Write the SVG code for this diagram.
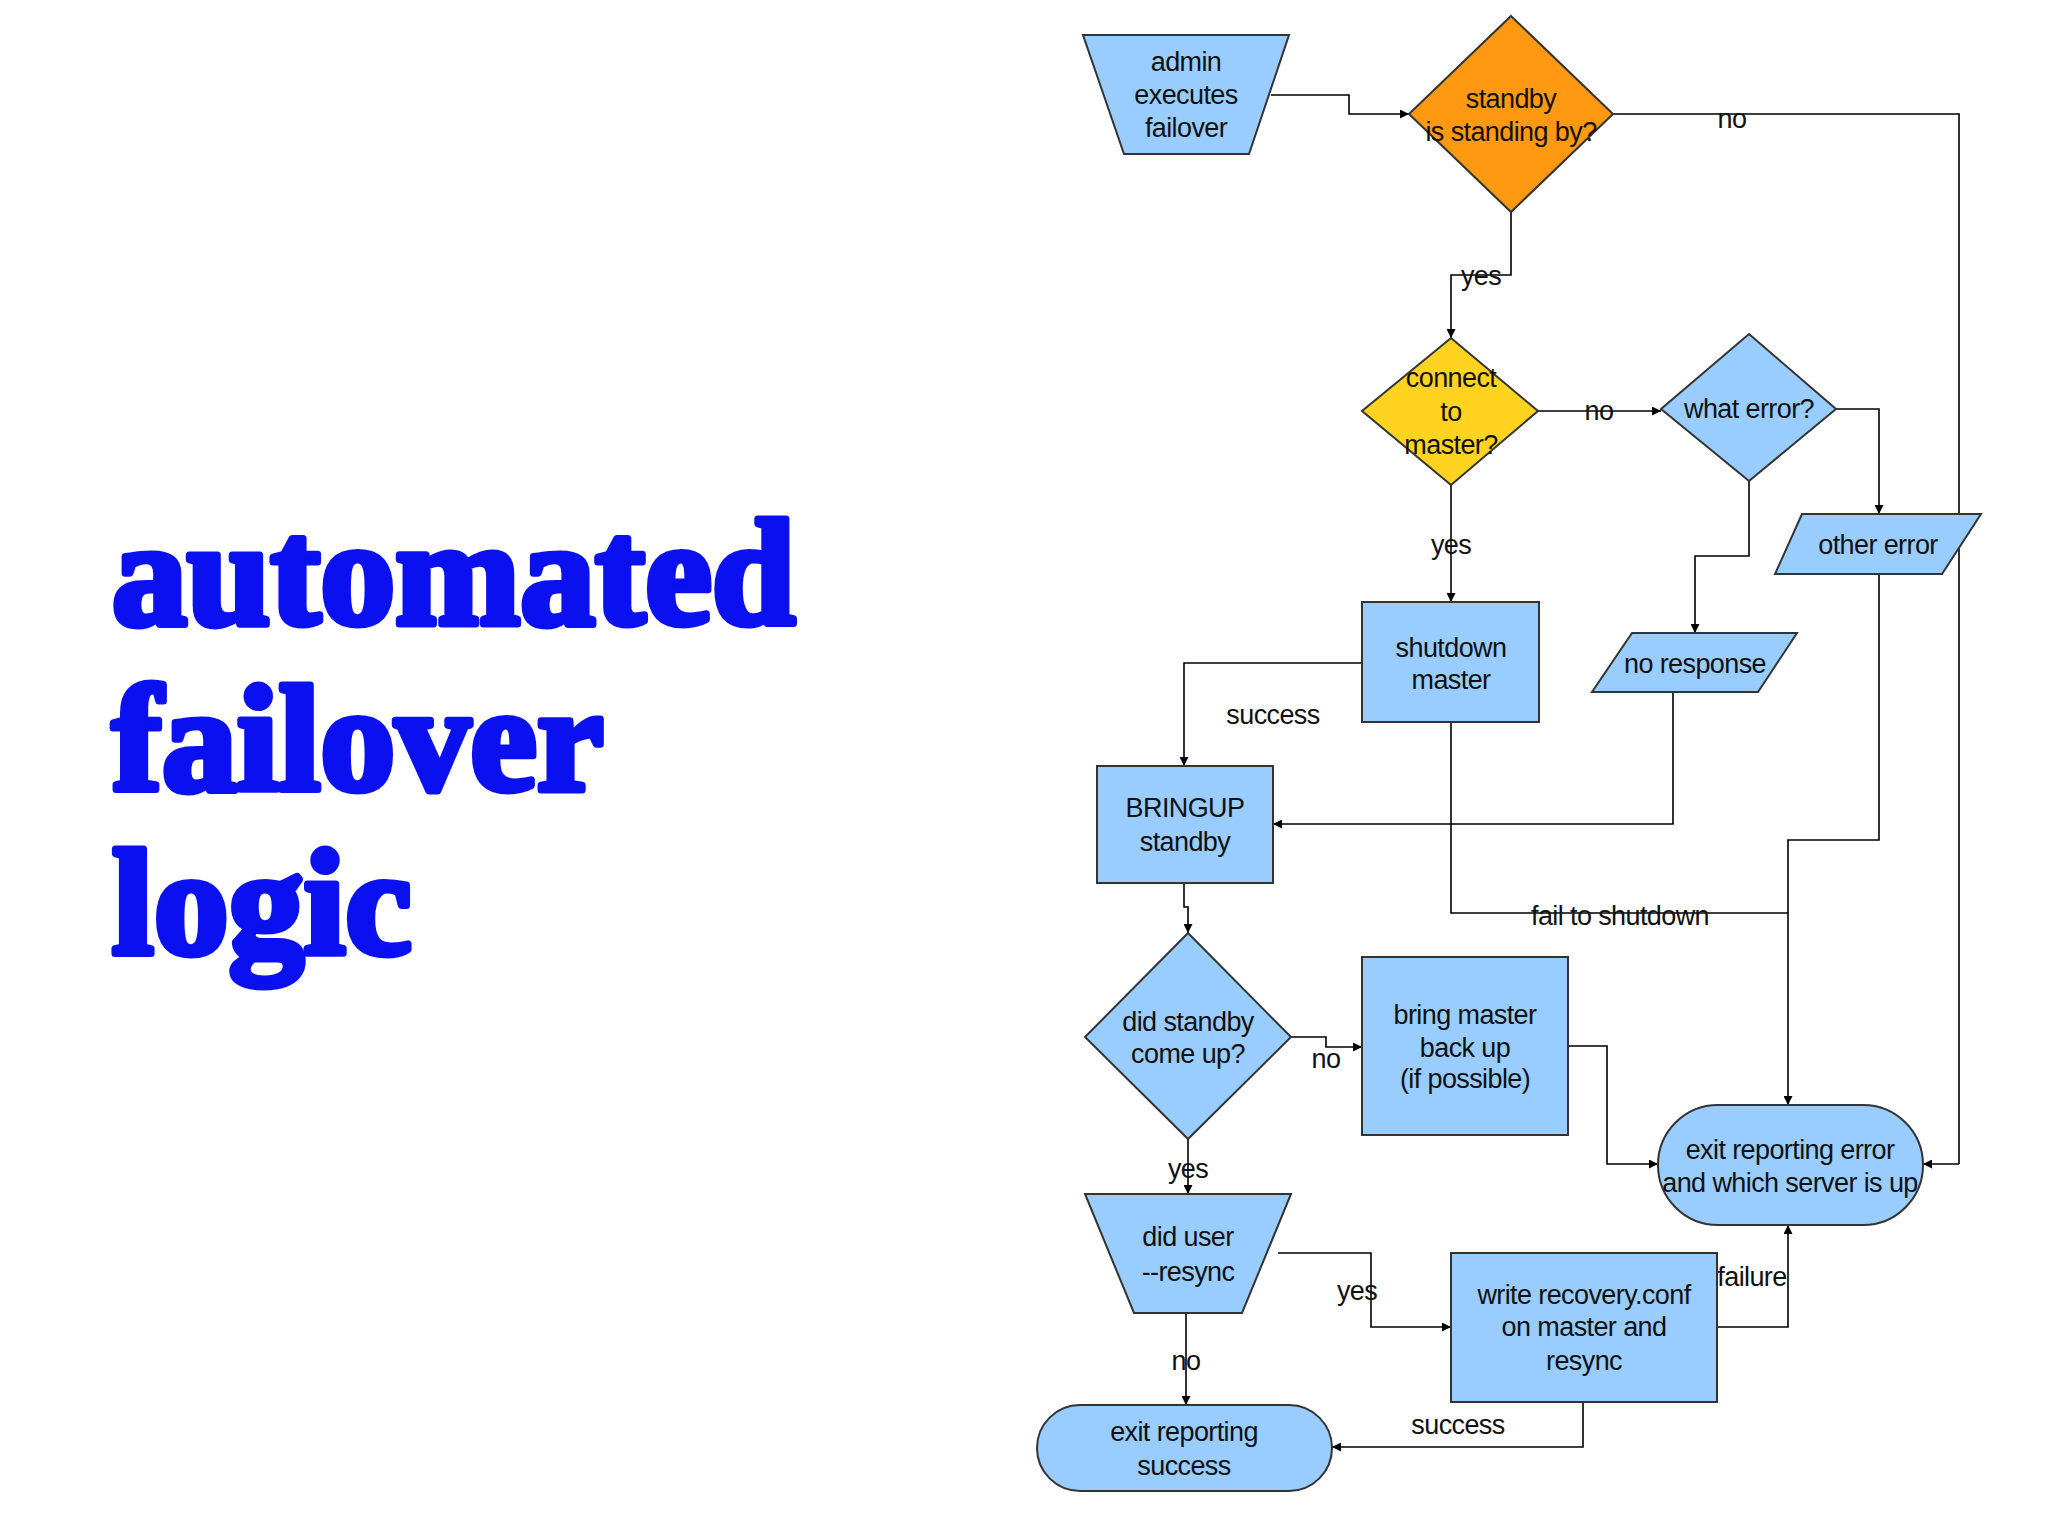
<svg xmlns="http://www.w3.org/2000/svg" width="2048" height="1535" viewBox="0 0 2048 1535">
<defs>
<marker id="a" viewBox="0 0 10 10" refX="10" refY="5" markerWidth="9" markerHeight="9" markerUnits="userSpaceOnUse" orient="auto"><path d="M0,0 L10,5 L0,10 z" fill="#000"/></marker>
</defs>
<style>
.n{fill:#99ccff;stroke:#333;stroke-width:2}
.t{font-family:"Liberation Sans",Arial,sans-serif;font-size:27px;fill:#111;text-anchor:middle;letter-spacing:-0.6px}
.c{fill:none;stroke:#000;stroke-width:1.6;marker-end:url(#a)}
.p{fill:none;stroke:#000;stroke-width:1.6}
.l{font-family:"Liberation Sans",Arial,sans-serif;font-size:27px;fill:#111;text-anchor:middle;letter-spacing:-0.6px}
.h{font-family:"Liberation Serif","Times New Roman",serif;font-weight:bold;font-size:150px;fill:#0a10ee;stroke:#0a10ee;stroke-width:7;stroke-linejoin:round}
</style>
<rect width="2048" height="1535" fill="#fff"/>
<g id="title">
<text class="h" x="112" y="624">automated</text>
<text class="h" x="112" y="790">failover</text>
<text class="h" x="112" y="954">logic</text>
</g>
<g id="connectors">
<path class="c" d="M1271,95 H1349 V114 H1409"/>
<path class="p" d="M1613,114 H1959 V1164"/><path class="c" d="M1959,1164 H1923"/>
<path class="c" d="M1511,212 V275 H1451 V338"/>
<path class="c" d="M1538,411 H1661"/>
<path class="c" d="M1836,409 H1879 V514"/>
<path class="c" d="M1749,481 V556 H1695 V633"/>
<path class="c" d="M1451,485 V602"/>
<path class="c" d="M1362,663 H1184 V766"/>
<path class="c" d="M1673,692 V824 H1273"/>
<path class="p" d="M1451,722 V913 H1788"/>
<path class="c" d="M1879,574 V840 H1788 V1105"/>
<path class="c" d="M1184,883 V907 H1188 V933"/>
<path class="c" d="M1291,1037 H1326 V1047 H1362"/>
<path class="c" d="M1568,1046 H1607 V1164 H1658"/>
<path class="c" d="M1188,1139 V1194"/>
<path class="c" d="M1278,1253 H1371 V1327 H1451"/>
<path class="c" d="M1717,1327 H1788 V1225"/>
<path class="c" d="M1186,1313 V1405"/>
<path class="c" d="M1583,1402 V1447 H1332"/>
<text class="l" x="1732" y="128">no</text>
<text class="l" x="1481" y="285">yes</text>
<text class="l" x="1599" y="420">no</text>
<text class="l" x="1451" y="554">yes</text>
<text class="l" x="1273" y="724">success</text>
<text class="l" x="1620" y="925">fail to shutdown</text>
<text class="l" x="1326" y="1068">no</text>
<text class="l" x="1188" y="1178">yes</text>
<text class="l" x="1357" y="1300">yes</text>
<text class="l" x="1752" y="1286">failure</text>
<text class="l" x="1186" y="1370">no</text>
<text class="l" x="1458" y="1434">success</text>
</g>
<g id="admin"><polygon class="n" points="1083,35 1289,35 1249,154 1124,154"/>
<text class="t" x="1186" y="71">admin</text><text class="t" x="1186" y="104">executes</text><text class="t" x="1186" y="137">failover</text></g>
<g id="standby"><polygon points="1511,16 1613,114 1511,212 1409,114" fill="#ff9912" stroke="#333" stroke-width="2"/>
<text class="t" x="1511" y="108">standby</text><text class="t" x="1511" y="141">is standing by?</text></g>
<g id="connect"><polygon points="1451,338 1538,411 1451,485 1362,411" fill="#ffd320" stroke="#333" stroke-width="2"/>
<text class="t" x="1451" y="387">connect</text><text class="t" x="1451" y="421">to</text><text class="t" x="1451" y="454">master?</text></g>
<g id="whaterror"><polygon class="n" points="1749,334 1836,409 1749,481 1661,409"/>
<text class="t" x="1749" y="418">what error?</text></g>
<g id="othererror"><polygon class="n" points="1802,514 1981,514 1942,574 1775,574"/>
<text class="t" x="1878" y="554">other error</text></g>
<g id="noresponse"><polygon class="n" points="1632,633 1797,633 1758,692 1592,692"/>
<text class="t" x="1695" y="673">no response</text></g>
<g id="shutdown"><rect class="n" x="1362" y="602" width="177" height="120"/>
<text class="t" x="1451" y="657">shutdown</text><text class="t" x="1451" y="689">master</text></g>
<g id="bringup"><rect class="n" x="1097" y="766" width="176" height="117"/>
<text class="t" x="1185" y="817">BRINGUP</text><text class="t" x="1185" y="851">standby</text></g>
<g id="didstandby"><polygon class="n" points="1188,933 1291,1037 1188,1139 1085,1037"/>
<text class="t" x="1188" y="1031">did standby</text><text class="t" x="1188" y="1063">come up?</text></g>
<g id="bringmaster"><rect class="n" x="1362" y="957" width="206" height="178"/>
<text class="t" x="1465" y="1024">bring master</text><text class="t" x="1465" y="1057">back up</text><text class="t" x="1465" y="1088">(if possible)</text></g>
<g id="exiterror"><rect class="n" x="1658" y="1105" width="265" height="120" rx="60" ry="60"/>
<text class="t" x="1790" y="1159">exit reporting error</text><text class="t" x="1790" y="1192">and which server is up</text></g>
<g id="diduser"><polygon class="n" points="1085,1194 1291,1194 1242,1313 1134,1313"/>
<text class="t" x="1188" y="1246">did user</text><text class="t" x="1188" y="1281">--resync</text></g>
<g id="write"><rect class="n" x="1451" y="1253" width="266" height="149"/>
<text class="t" x="1584" y="1304">write recovery.conf</text><text class="t" x="1584" y="1336">on master and</text><text class="t" x="1584" y="1370">resync</text></g>
<g id="exitsuccess"><rect class="n" x="1037" y="1405" width="295" height="86" rx="43" ry="43"/>
<text class="t" x="1184" y="1441">exit reporting</text><text class="t" x="1184" y="1475">success</text></g>
</svg>
